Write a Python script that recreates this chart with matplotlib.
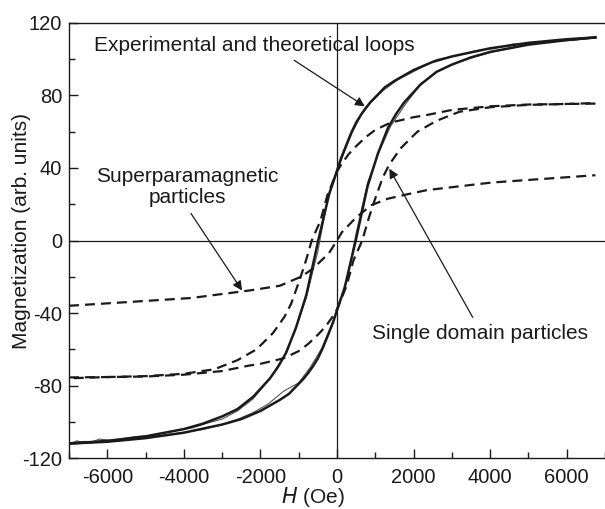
import matplotlib
matplotlib.use("Agg")
import matplotlib.pyplot as plt
import numpy as np

plt.rcParams['font.family'] = ['Liberation Sans', 'DejaVu Sans']
plt.rcParams['axes.unicode_minus'] = False

# big loop (experimental / theoretical), descending branch
loop_h_desc = [6750, 6000, 5000, 4000, 3000, 2500, 2000, 1500, 1250, 1000, 875, 750, 625, 500, 375, 250, 100, 0,
               -200, -490, -800, -1070, -1330, -1550, -1750, -2180, -2600, -3000, -3500, -4000, -5000, -6000, -7000]
loop_m_desc = [112, 111, 109, 106, 101.5, 98.5, 94, 88, 84.5, 79, 76.3, 73, 69.3, 65, 59.5, 53, 45, 38.5,
               26, 0, -30, -48, -62, -70, -76, -86, -93, -97, -101, -104, -108, -110.5, -112]
# ascending branch
loop_h_asc = [-7000, -6000, -5000, -4000, -3000, -2500, -2000, -1500, -1250, -1000, -875, -750, -625, -500, -375, -250, -100, 0,
              200, 490, 800, 1070, 1330, 1550, 1750, 2180, 2600, 3000, 3500, 4000, 5000, 6000, 6750]
loop_m_asc = [-112, -111, -109, -106, -101.5, -98.5, -94, -88, -84.5, -79, -76.3, -73, -69.3, -65, -59.5, -53, -45, -38.5,
              -26, 0, 30, 48, 62, 70, 76, 86, 93, 97, 101, 104, 108, 110.5, 112]

# thin measured curve (slightly noisy)
exp_h_desc = [6700, 6200, 5600, 5100, 4600, 4100, 3600, 3100, 2600, 2100, 1600, 1200, 900, 650, 400, 150, 0,
              -250, -500, -800, -1100, -1400, -1800, -2200, -2600, -3000, -3400, -3800, -4300, -4800,
              -5300, -5800, -6200, -6500, -6800, -7000]
exp_m_desc = [112, 110.5, 110.3, 108.2, 108.4, 105.8, 104.6, 101.8, 99.8, 94.2, 88.8, 82.6, 76.5, 69.8, 59.6, 46.5, 37.5,
              22, -6, -31.5, -50, -64.5, -77.5, -87.5, -94, -98.5, -100.8, -103.5, -105, -107.5,
              -108.2, -110.5, -109.5, -111.8, -110.5, -112.5]
exp_h_asc = [-7000, -6600, -6100, -5600, -5000, -4500, -4000, -3500, -3000, -2600, -2200, -1800, -1400,
             -1000, -700, -400, -150, 0, 250, 500, 800, 1100, 1400, 1800, 2200, 2600, 3100, 3600,
             4100, 4600, 5100, 5600, 6200, 6750]
exp_m_asc = [-111.5, -110.8, -111.2, -109.2, -108.6, -107.2, -105.8, -104.2, -101.4, -98.6, -95, -90.2, -83.2,
             -78.5, -70, -59.5, -47, -39, -22.5, 4, 32, 49, 63, 75.5, 86.5, 93, 97.8, 101.2,
             104.2, 106.2, 108.6, 109.6, 110.6, 111.6]

# single domain particles, dashed loop
sd_h_desc = [6750, 5000, 4000, 3000, 2300, 2000, 1400, 1000, 750, 500, 300, 130, 0,
             -250, -430, -660, -810, -980, -1200, -1370, -1670, -2100, -2600, -3200, -4000, -5000, -6000, -7000]
sd_m_desc = [75.5, 75, 74, 72, 69, 68, 65, 61, 57, 52, 47.5, 42.5, 38,
             25, 11, 0, -11, -22, -35, -42, -51, -60, -66, -71, -73.5, -74.8, -75.3, -76]
sd_h_asc = [-7000, -6000, -5000, -4000, -3000, -2300, -2000, -1400, -1000, -750, -500, -300, -130, 0,
            250, 430, 660, 810, 980, 1200, 1370, 1670, 2100, 2600, 3200, 4000, 5000, 6000, 6750]
sd_m_asc = [-75.5, -75.3, -75, -74, -72, -69, -68, -65, -61, -57, -52, -47.5, -42.5, -38,
            -25, -11, 0, 11, 22, 35, 42, 51, 60, 66, 71, 73.5, 74.8, 75.3, 75.8]

# superparamagnetic particles, dashed, no hysteresis
sp_h = [-7000, -5500, -3800, -2300, -1500, -940, -640, -210, 0, 130, 510, 900, 1320, 1840, 2350, 4060, 6750]
sp_m = [-36, -34, -31.7, -27.6, -25, -20, -15.7, -7, 0, 4.6, 12.9, 19.5, 23, 25.5, 27.8, 32, 36]

fig = plt.figure(figsize=(6.05, 5.09), dpi=100)
ax = fig.add_axes([0.114, 0.100, 0.886, 0.855])

col = '#1a1a1a'
fs = 15
ax.axhline(0, color=col, lw=0.9, zorder=1)
ax.axvline(0, color=col, lw=0.9, zorder=1)

ax.plot(exp_h_desc, exp_m_desc, color='#555555', lw=0.8, zorder=2)
ax.plot(exp_h_asc, exp_m_asc, color='#555555', lw=0.8, zorder=2)
ax.plot(loop_h_desc, loop_m_desc, color=col, lw=1.8, zorder=3)
ax.plot(loop_h_asc, loop_m_asc, color=col, lw=1.8, zorder=3)

ds = (0, (4.5, 2.7))
ax.plot(sd_h_desc, sd_m_desc, color=col, lw=1.6, linestyle=ds)
ax.plot(sd_h_asc, sd_m_asc, color=col, lw=1.6, linestyle=ds)
ax.plot(sp_h, sp_m, color=col, lw=1.6, linestyle=ds)

ax.set_xlim(-7000, 6760)
ax.set_ylim(-120, 120)
ax.set_xticks(np.arange(-6000, 6001, 2000))
ax.set_xticks(np.arange(-7000, 7001, 1000), minor=True)
ax.set_yticks(np.arange(-120, 121, 40))
ax.set_yticks(np.arange(-100, 101, 40), minor=True)
ax.tick_params(which='both', direction='in', labelsize=14.5, colors=col)
ax.tick_params(which='major', length=6.5, width=1)
ax.tick_params(which='minor', length=4.3, width=1)
ax.tick_params(axis='x', pad=7)
ax.tick_params(axis='y', pad=5)
ax.spines['right'].set_visible(False)
for s in ['left', 'bottom', 'top']:
    ax.spines[s].set_linewidth(1.0)
    ax.spines[s].set_color(col)

fig.text(313 / 605, 1 - 497 / 509, r'$\it{H}$ (Oe)', fontsize=fs, color=col, ha='center', va='center')
fig.text(22 / 605, 1 - 231 / 509, 'Magnetization (arb. units)', fontsize=fs, color=col,
         ha='center', va='center', rotation=90)

arr = dict(arrowstyle='-|>', color=col, lw=0.9, mutation_scale=14, shrinkA=0, shrinkB=0)
ax.text(-2159, 107.7, 'Experimental and theoretical loops', ha='center', va='center', fontsize=fs, color=col)
ax.annotate('', xy=(726, 74), xytext=(-1120, 99.4), arrowprops=arr)
ax.text(-3910, 29.6, 'Superparamagnetic\nparticles', ha='center', va='center',
        fontsize=fs, color=col, linespacing=1.15)
ax.annotate('', xy=(-2479, -27.6), xytext=(-3813, 14.9), arrowprops=arr)
ax.text(3726, -51.2, 'Single domain particles', ha='center', va='center', fontsize=fs, color=col)
ax.annotate('', xy=(1367, 39.6), xytext=(3546, -42.4), arrowprops=arr)

fig.savefig('out.png', dpi=100)
